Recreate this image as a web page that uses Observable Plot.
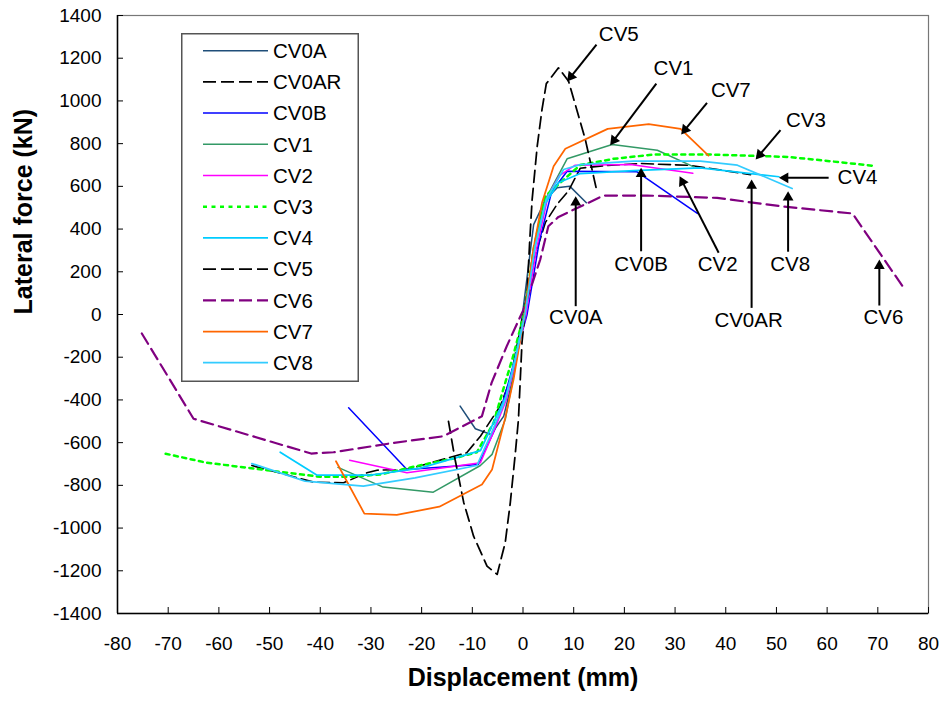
<!DOCTYPE html>
<html><head><meta charset="utf-8">
<script src="https://cdn.jsdelivr.net/npm/d3@7"></script>
<script src="https://cdn.jsdelivr.net/npm/@observablehq/plot@0.6"></script>
<style>
body{margin:0;background:#fff;}
#wrap{position:relative;width:941px;height:702px;font-family:"Liberation Sans",Arial,sans-serif;}
#legend{position:absolute;left:181px;top:33px;}
</style></head><body><div id="wrap"></div>
<script>
// ---- data: [displacement (mm), lateral force (kN)] ----
const CV0A = [[-12.4,-429],[-9.4,-535],[-6.3,-562],[-3.8,-476],[-1.8,-280],[0,20],[1.2,250],[2.1,421],[4.5,540],[6.7,593],[9.2,601],[12.5,523]];
const CV0AR = [[-53.5,-707],[-41.3,-785],[-35.4,-788],[-30.8,-741],[-28.8,-729],[-22.9,-726],[-11.1,-647],[-8.4,-570],[-4.5,-429],[-2.5,-304],[0,0],[2.2,260],[4.4,430],[6.7,515],[9,580],[11.3,685],[16.6,698],[23.2,707],[33.1,698],[44.9,655]];
const CV0B = [[-34.4,-437],[-22.9,-726],[-8.8,-702],[-5.6,-540],[-3,-330],[0.8,0],[3.2,340],[5.5,560],[6.0,585],[8.7,671],[22.5,668],[34.4,473]];
const CV1 = [[-36.5,-716],[-27.6,-808],[-17.7,-832],[-8.4,-707],[-6.1,-655],[-3.5,-492],[-1.8,-280],[0.3,0],[2,280],[4.07,523],[8.7,729],[17.6,796],[26.5,769],[33.7,691]];
const CV2 = [[-34.2,-682],[-22.9,-741],[-8.4,-694],[-6,-560],[-3.3,-400],[-1.5,-220],[0.6,0],[2.6,300],[5,560],[7.2,650],[10.3,699],[21.2,702],[33.5,661]];
const CV3 = [[-70.5,-652],[-62.4,-694],[-50.5,-729],[-40,-760],[-34.1,-760],[-28.2,-749],[-21.6,-713],[-13.7,-674],[-9.1,-645],[-5.8,-507],[-4.1,-367],[-2,-200],[0.2,0],[2.2,320],[4.4,554],[7.4,618],[11.3,700],[17.9,729],[25.8,749],[37.1,749],[52.1,738],[59.3,721],[69.6,695]];
const CV4 = [[-47.9,-645],[-40.7,-752],[-30.1,-752],[-20.3,-719],[-8.4,-637],[-6.1,-520],[-3.3,-380],[-1.5,-200],[0.3,0],[2.2,300],[4.4,520],[7,617],[11.3,660],[21.8,674],[35,687],[50.5,645]];
const CV5 = [[-14.7,-500],[-13.4,-679],[-11.7,-880],[-9.75,-1038],[-7.1,-1178],[-5.1,-1217],[-3.5,-1067],[-2.5,-880],[-1.5,-646],[-0.9,-492],[-0.2,-131],[0.85,117],[1.34,351],[1.8,538],[2.8,787],[3.75,960],[4.6,1081],[7.0,1155],[9.0,1092],[12.3,819],[14.5,585]];
const CV6 = [[-75.2,-89],[-65,-488],[-41.8,-651],[-37.4,-645],[-25.5,-601],[-15.7,-570],[-8.1,-476],[-6.2,-320],[-3.2,-148],[0.1,23],[3.4,257],[5.0,413],[7.0,457],[15.9,557],[24.5,557],[38.3,546],[50.8,507],[65,473],[75.1,125]];
const CV7 = [[-36.9,-687],[-31.3,-932],[-24.9,-938],[-16.5,-900],[-8.1,-796],[-6.1,-726],[-3.5,-484],[-1.86,-304],[0.3,0],[2,300],[3.75,523],[6.04,694],[8.35,776],[16.7,869],[24.8,891],[31.1,869],[36.6,744]];
const CV8 = [[-53.5,-698],[-43,-780],[-31.5,-804],[-21.3,-765],[-9.1,-707],[-6.3,-560],[-3.5,-400],[-1.6,-220],[0.4,0],[2.4,320],[4.6,540],[8,679],[11.3,702],[21.8,718],[35,718],[42.3,699],[53.1,590]];

const seriesNames = ["CV0A","CV0AR","CV0B","CV1","CV2","CV3","CV4","CV5","CV6","CV7","CV8"];
const seriesData = [CV0A, CV0AR, CV0B, CV1, CV2, CV3, CV4, CV5, CV6, CV7, CV8];

const xTicks = d3.range(-80, 81, 10);
const yTicks = d3.range(-1400, 1401, 200);

// annotation labels: text position, arrow tail, arrow tip (data units)
const annLabels = ["CV5","CV1","CV7","CV3","CV4","CV0A","CV0B","CV2","CV8","CV0AR","CV6"];
const annTextX = [18.9, 29.7, 41.0, 55.8, 66.0, 10.4, 23.3, 38.4, 52.7, 44.5, 71.1];
const annTextY = [1311, 1150, 1050, 910, 643, -15, 234, 234, 234, -27, -15];
const annTailX = [14.5, 26.3, 36.3, 50.8, 60.3, 10.4, 23.3, 38.6, 52.3, 45.1, 70.3];
const annTailY = [1264, 1081, 991, 863, 640, 39, 296, 289, 294, 31, 42];
const annHeadX = [8.7, 17.2, 31.2, 45.9, 50.5, 10.4, 23.3, 30.9, 52.3, 45.1, 70.3];
const annHeadY = [1091, 793, 843, 726, 640, 554, 687, 647, 577, 632, 257];

// ---- layout & styles ----
const W = 941, H = 702, mL = 117, mR = 13, mT = 15, mB = 89;
const xDomain = [-80, 80], yDomain = [-1400, 1400];
const seriesColors = ["#1f4e79","#000000","#0000ff","#339966","#ff00ff","#00ff00","#00ccff","#000000","#800080","#ff6600","#33ccff"];
const seriesDash = [null,"12,5",null,null,null,"4,4.5",null,"12,6","12,6",null,null];
const seriesWidth = [1.5,1.6,1.5,1.5,1.5,2.5,1.75,1.75,2.2,1.75,1.75];

// pixel-per-unit factors (derived from layout) to orient the arrowheads
const kx = (W - mL - mR) / (xDomain[1] - xDomain[0]);
const ky = (H - mT - mB) / (yDomain[1] - yDomain[0]);
const headR = 4, tipOffset = 2 * Math.sqrt(Math.PI * headR * headR / (Math.sqrt(3) * 3));

const ann = annLabels.map((label, i) => {
  const ux = (annHeadX[i] - annTailX[i]) * kx;
  const uy = -(annHeadY[i] - annTailY[i]) * ky;
  const len = Math.hypot(ux, uy);
  const cx = annHeadX[i] - (ux / len) * tipOffset / kx;
  const cy = annHeadY[i] + (uy / len) * tipOffset / ky;
  return {label, tx: annTextX[i], ty: annTextY[i], sx: annTailX[i], sy: annTailY[i], cx, cy,
          rot: Math.atan2(ux, -uy) * 180 / Math.PI};
});

const lineMarks = seriesData.map((data, i) => Plot.line(data, {
  x: d => d[0], y: d => d[1],
  stroke: seriesColors[i], strokeWidth: seriesWidth[i],
  strokeDasharray: seriesDash[i] || undefined,
  strokeLinejoin: "round"
}));

const chart = Plot.plot({
  width: W, height: H,
  marginLeft: mL, marginRight: mR, marginTop: mT, marginBottom: mB,
  style: {fontFamily: "'Liberation Sans', Arial, sans-serif", background: "white", color: "black"},
  x: {domain: xDomain},
  y: {domain: yDomain},
  marks: [
    Plot.frame({stroke: "#777", strokeWidth: 1.2}),
    Plot.ruleX([xDomain[0]], {stroke: "black", strokeWidth: 1.5}),
    Plot.ruleY([yDomain[0]], {stroke: "black", strokeWidth: 1.5}),
    Plot.axisX({ticks: xTicks, tickSize: -6, tickPadding: 29, fontSize: 19, label: null, tickFormat: d => String(d)}),
    Plot.axisY({ticks: yTicks, tickSize: -6, tickPadding: 22, fontSize: 19, label: null, tickFormat: d => String(d)}),
    ...lineMarks,
    Plot.link(ann, {x1: "sx", y1: "sy", x2: "cx", y2: "cy", stroke: "black", strokeWidth: 2}),
    Plot.dot(ann, {x: "cx", y: "cy", symbol: "triangle", r: headR, fill: "black", stroke: "none", rotate: "rot"}),
    Plot.text(ann, {x: "tx", y: "ty", text: "label", fontSize: 20.5, fill: "black"}),
    Plot.text(["Displacement (mm)"], {text: d => d, frameAnchor: "bottom", dy: 72, fontSize: 25, fontWeight: "bold", fill: "black"}),
    Plot.text(["Lateral force (kN)"], {text: d => d, frameAnchor: "left", dx: -94, rotate: -90, fontSize: 25, fontWeight: "bold", fill: "black"})
  ]
});
document.getElementById("wrap").appendChild(chart);

// ---- legend (overlay box inside plot area) ----
const lw = 178, lh = 349;
const lsvg = d3.select("#wrap").append("svg").attr("id", "legend").attr("width", lw).attr("height", lh);
lsvg.append("rect").attr("x", 0.75).attr("y", 0.75).attr("width", lw - 1.5).attr("height", lh - 1.5)
  .attr("fill", "white").attr("stroke", "#555").attr("stroke-width", 1.5);
seriesNames.forEach((name, i) => {
  const cy = 17.7 + 31.2 * i;
  lsvg.append("line").attr("x1", 22).attr("x2", 87).attr("y1", cy).attr("y2", cy)
    .attr("stroke", seriesColors[i]).attr("stroke-width", seriesWidth[i])
    .attr("stroke-dasharray", seriesDash[i] ? (seriesDash[i] === "4,4.5" ? "4,4.5" : "13,5") : null);
  lsvg.append("text").attr("x", 92).attr("y", cy + 7.3).attr("font-size", 20.5)
    .attr("font-family", "'Liberation Sans', Arial, sans-serif").attr("fill", "black").text(name);
});
</script></body></html>
